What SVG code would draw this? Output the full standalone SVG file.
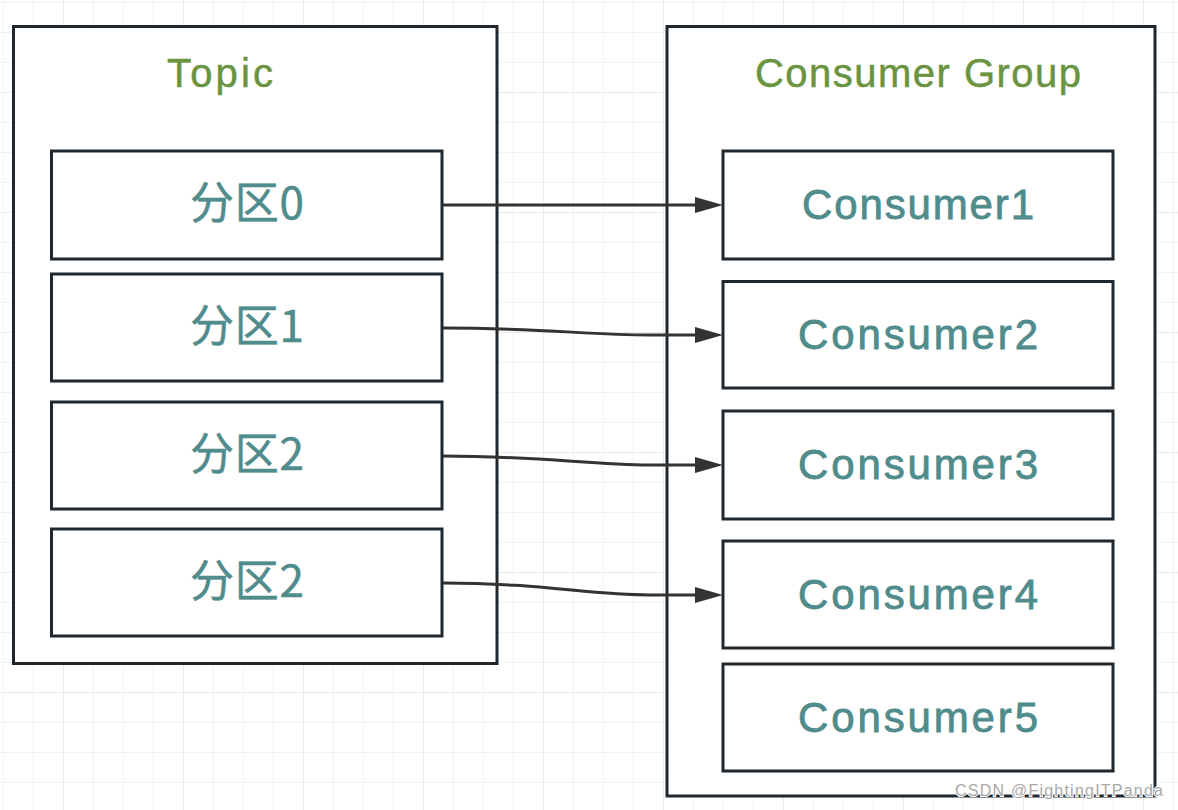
<svg xmlns="http://www.w3.org/2000/svg" width="1178" height="810" viewBox="0 0 1178 810">
  <defs>
    <pattern id="minor" width="30" height="30" patternUnits="userSpaceOnUse" x="3" y="2">
      <path d="M0,0 H30 M0,0 V30" fill="none" stroke="#f2f2f2" stroke-width="2"/>
    </pattern>
    <pattern id="major" width="120" height="120" patternUnits="userSpaceOnUse" x="63" y="92">
      <path d="M0,0 H120 M0,0 V120" fill="none" stroke="#eaeaea" stroke-width="2"/>
    </pattern>
    <marker id="arrow" markerUnits="userSpaceOnUse" markerWidth="28" markerHeight="16" refX="0" refY="8" orient="auto">
      <path d="M0,0 L28,8 L0,16 Z" fill="#333333"/>
    </marker>
    <style>
      .box { fill: #ffffff; stroke: #20282e; stroke-width: 3; }
      .title { font-family: "Liberation Sans", "Noto Sans CJK SC", sans-serif; font-size: 40px; fill: #6a943f; stroke: #6a943f; stroke-width: 0.5; text-anchor: middle; }
      .lbl { font-family: "Liberation Sans", "Noto Sans CJK SC", sans-serif; font-size: 42px; fill: #508c8c; stroke: #508c8c; stroke-width: 0.8; text-anchor: middle; }
      .cjk { font-family: "Noto Sans CJK SC", "Liberation Sans", sans-serif; font-size: 44px; fill: #508c8c; stroke: #508c8c; stroke-width: 0.5; text-anchor: middle; }
      .edge { fill: none; stroke: #333333; stroke-width: 3; marker-end: url(#arrow); }
      .wm { font-family: "Liberation Sans", sans-serif; font-size: 16px; fill: #a8a8a8; stroke: #ffffff; stroke-width: 2; paint-order: stroke; }
    </style>
  </defs>

  <rect width="1178" height="810" fill="#ffffff"/>
  <rect width="1178" height="810" fill="url(#minor)"/>
  <rect width="1178" height="810" fill="url(#major)"/>

  <g id="topic">
    <rect class="box" x="13.5" y="26.5" width="483.5" height="637"/>
    <text class="title" x="220" y="87" textLength="106" lengthAdjust="spacing">Topic</text>
  </g>
  <g id="consumer-group">
    <rect class="box" x="667" y="26.5" width="488" height="769.5"/>
    <text class="title" x="918" y="87" textLength="326" lengthAdjust="spacing">Consumer Group</text>
  </g>

  <g id="partition0">
    <rect class="box" x="51.5" y="151" width="390.5" height="108"/>
    <text class="cjk" x="247" y="219" textLength="114" lengthAdjust="spacing">分区0</text>
  </g>
  <g id="partition1">
    <rect class="box" x="51.5" y="274" width="390.5" height="107"/>
    <text class="cjk" x="247" y="342" textLength="114" lengthAdjust="spacing">分区1</text>
  </g>
  <g id="partition2">
    <rect class="box" x="51.5" y="402" width="390.5" height="107"/>
    <text class="cjk" x="247" y="470" textLength="114" lengthAdjust="spacing">分区2</text>
  </g>
  <g id="partition3">
    <rect class="box" x="51.5" y="529" width="390.5" height="107"/>
    <text class="cjk" x="247" y="597" textLength="114" lengthAdjust="spacing">分区2</text>
  </g>

  <g id="consumer1">
    <rect class="box" x="723" y="151" width="390" height="108"/>
    <text class="lbl" x="918" y="219" textLength="232" lengthAdjust="spacing">Consumer1</text>
  </g>
  <g id="consumer2">
    <rect class="box" x="723" y="281.5" width="390" height="106.5"/>
    <text class="lbl" x="918" y="349" textLength="240" lengthAdjust="spacing">Consumer2</text>
  </g>
  <g id="consumer3">
    <rect class="box" x="723" y="411" width="390" height="108"/>
    <text class="lbl" x="918" y="479" textLength="240" lengthAdjust="spacing">Consumer3</text>
  </g>
  <g id="consumer4">
    <rect class="box" x="723" y="541" width="390" height="107"/>
    <text class="lbl" x="918" y="609" textLength="240" lengthAdjust="spacing">Consumer4</text>
  </g>
  <g id="consumer5">
    <rect class="box" x="723" y="664" width="390" height="107"/>
    <text class="lbl" x="918" y="732" textLength="240" lengthAdjust="spacing">Consumer5</text>
  </g>

  <g id="connectors">
    <path class="edge" d="M443,205 L695,205"/>
    <path class="edge" d="M443,328 C540,328 590,335 650,335 L695,335"/>
    <path class="edge" d="M443,456 C540,456 590,465 650,465 L695,465"/>
    <path class="edge" d="M443,583 C540,583 590,595 650,595 L695,595"/>
  </g>

  <text class="wm" x="955" y="796" textLength="208" lengthAdjust="spacing">CSDN @FightingITPanda</text>
</svg>
